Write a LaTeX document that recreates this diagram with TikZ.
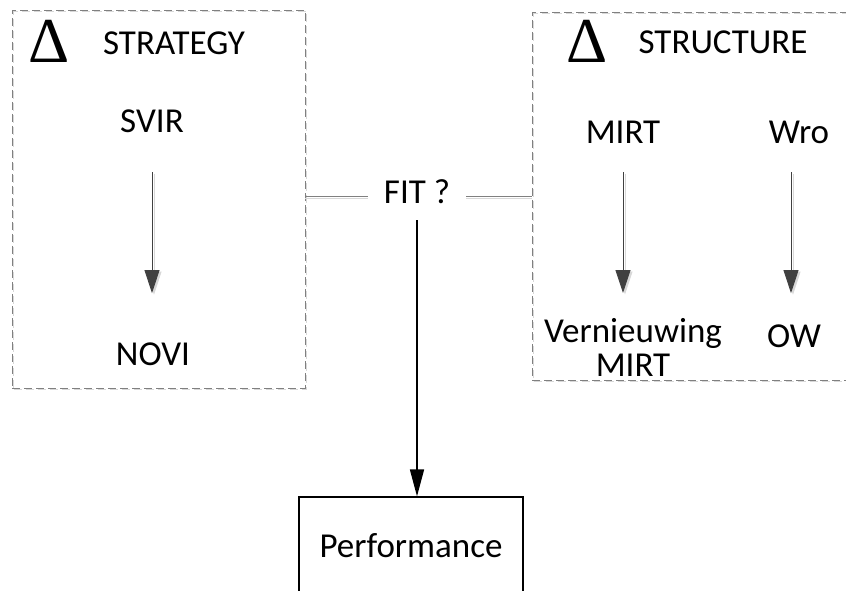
\documentclass[tikz,border=0pt]{standalone}
\usepackage{fontspec}
\setmainfont{Carlito}
\newfontfamily\deltafont{Liberation Serif}
\usetikzlibrary{arrows.meta}
\definecolor{dashgray}{HTML}{808080}
\definecolor{shadowgray}{HTML}{D8D8D8}
\definecolor{arrowgray}{HTML}{404040}
\tikzset{
  lbl/.style={inner sep=0pt, font=\fontsize{35}{30}\selectfont},
  deltalbl/.style={inner sep=0pt, font=\deltafont\fontsize{64}{64}\selectfont},
  dashbox/.style={draw=dashgray, line width=0.8pt, dash pattern=on 8pt off 4pt,
    preaction={draw=shadowgray, line width=0.8pt, dash pattern=on 8pt off 4pt, transform canvas={shift={(1.5pt,-1.5pt)}}},
    inner sep=0pt},
  flowarrow/.style={draw=arrowgray, line width=0.9pt, -{Triangle[length=23pt,width=15pt]},
    preaction={draw=shadowgray, line width=0.9pt, -{Triangle[length=23pt,width=15pt]}, transform canvas={shift={(2pt,-1.5pt)}}}},
  fitline/.style={draw=dashgray, line width=0.9pt,
    preaction={draw=shadowgray, line width=0.9pt, transform canvas={shift={(0pt,-2pt)}}}},
  mainarrow/.style={draw=black, line width=1.6pt, -{Triangle[length=27pt,width=14pt]}},
  perfbox/.style={draw=black, line width=1.2pt, minimum width=224pt, minimum height=98pt, inner sep=0pt, font=\fontsize{35}{30}\selectfont}
}
\begin{document}
\begin{tikzpicture}[x=1pt,y=-1pt]
\path[use as bounding box, clip] (0,0) rectangle (846,591);
\fill[white] (0,0) rectangle (846,591);
% boxes
\node[dashbox, minimum width=293pt, minimum height=378pt] (sbox) at (158.5,199) {};
\node[dashbox, minimum width=328pt, minimum height=368pt] (tbox) at (696,196) {};
% left content
\node[deltalbl, anchor=base] (dl) at (49,63) {Δ};
\node[lbl, anchor=base] (strategy) at (174,55) {STRATEGY};
\node[lbl, anchor=base] (svir) at (152,132) {SVIR};
\node[lbl, anchor=base] (novi) at (153,365) {NOVI};
% right content
\node[deltalbl, anchor=base] (dr) at (587,63) {Δ};
\node[lbl, anchor=base] (structure) at (723,54) {STRUCTURE};
\node[lbl, anchor=base] (mirt) at (623,143) {MIRT};
\node[lbl, anchor=base] (wro) at (799,143) {Wro};
\node[lbl, anchor=north, align=center] (vmirt) at (633,318) {Vernieuwing\\[4pt]MIRT};
\node[lbl, anchor=base] (ow) at (794,347) {OW};
% fit
\node[lbl, anchor=base, inner xsep=18pt] (fit) at (417,203) {FIT ?};
\node[perfbox] (perf) at (411,546) {Performance};
% connectors
\draw[flowarrow, shorten <=40pt, shorten >=49pt] (svir.south) -- (svir.south |- novi.north);
\draw[flowarrow, shorten <=29pt, shorten >=25pt] (mirt.south) -- (mirt.south |- vmirt.north);
\draw[flowarrow, shorten <=29pt, shorten >=31pt] ([xshift=-8pt]wro.south) -- ([xshift=-8pt]wro.south |- ow.north);
\draw[fitline] (sbox.east |- 0,196) -- ([xshift=2pt]fit.west |- 0,196);
\draw[fitline] ([xshift=-2pt]fit.east |- 0,196) -- (tbox.west |- 0,196);
\draw[mainarrow, shorten <=17pt] (fit.south) -- (fit.south |- perf.north);
\end{tikzpicture}
\end{document}
